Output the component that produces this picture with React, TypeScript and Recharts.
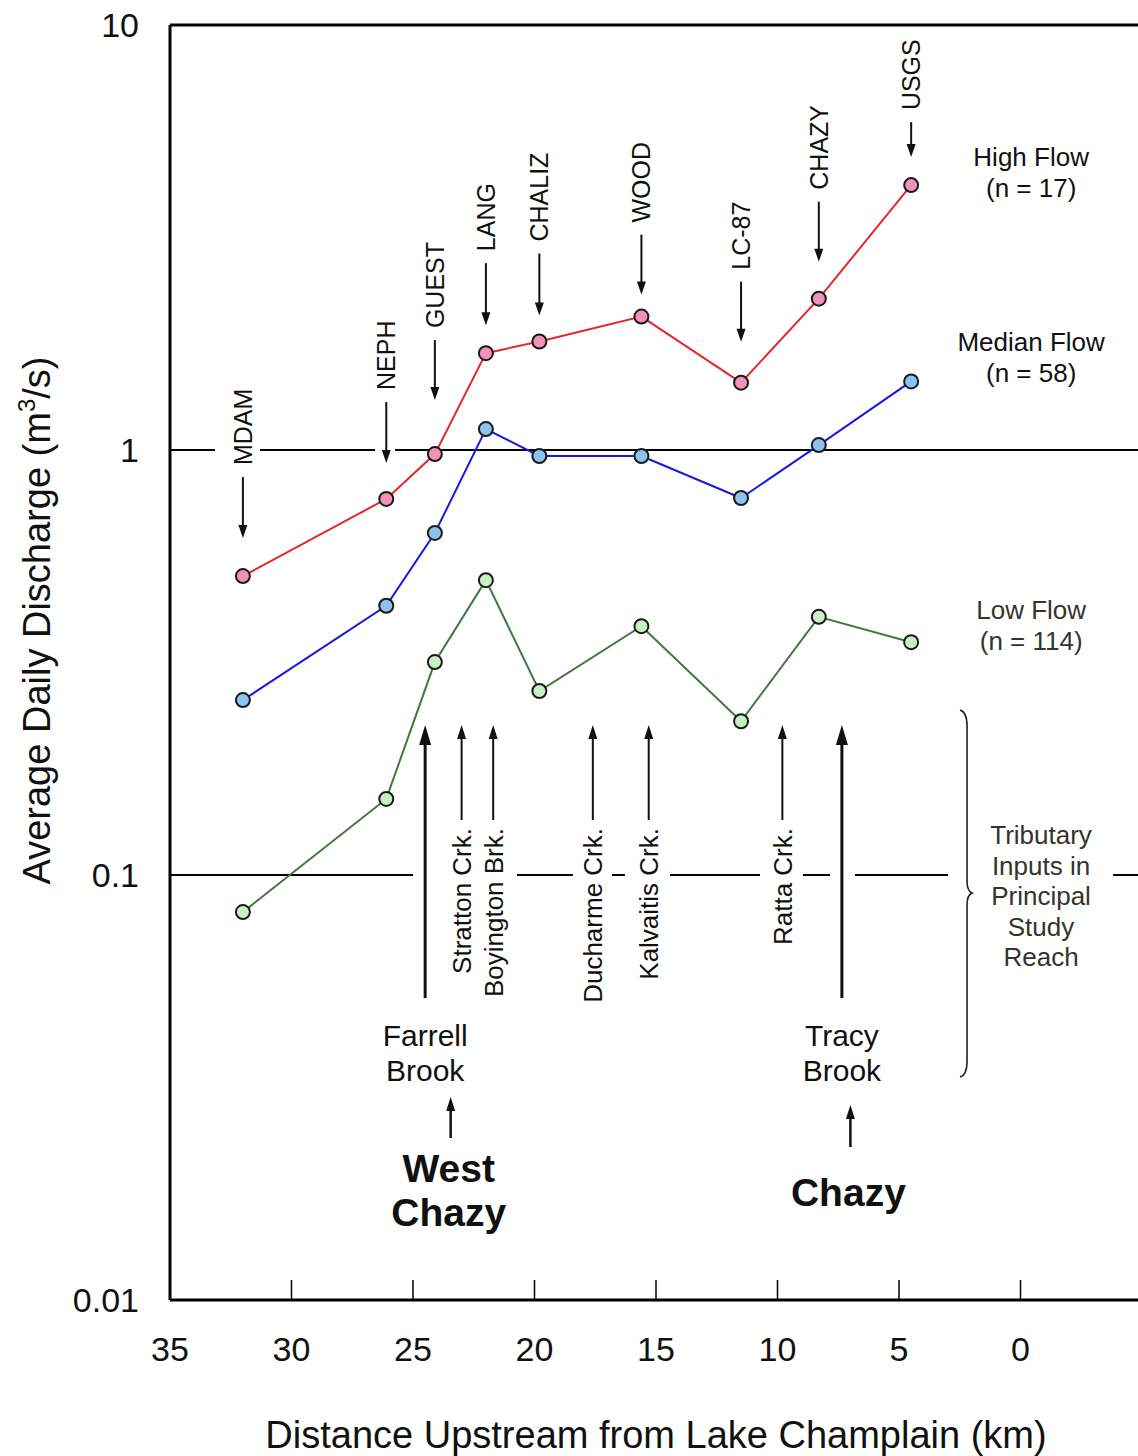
import React from 'react';
import { LineChart, Line, XAxis, YAxis, ReferenceLine, ReferenceDot } from 'recharts';

// Sampling stations along the Great Chazy River (km upstream of Lake Champlain)
const STATIONS = ['MDAM', 'NEPH', 'GUEST', 'LANG', 'CHALIZ', 'WOOD', 'LC-87', 'CHAZY', 'USGS'];
const DISTANCE_KM = [32.0, 26.1, 24.1, 22.0, 19.8, 15.6, 11.5, 8.3, 4.5];

// Average daily discharge (m3/s)
const HIGH_FLOW = [0.505, 0.767, 0.978, 1.69, 1.8, 2.06, 1.44, 2.27, 4.2];
const MEDIAN_FLOW = [0.258, 0.43, 0.638, 1.12, 0.968, 0.968, 0.771, 1.027, 1.45];
const LOW_FLOW = [0.0818, 0.151, 0.317, 0.494, 0.271, 0.385, 0.23, 0.405, 0.353];

const FLOW_NAMES = ['High Flow', 'Median Flow', 'Low Flow'];
const FLOW_COUNTS = [17, 58, 114];

// Tributaries entering the principal study reach
const MINOR_TRIBUTARIES = ['Stratton Crk.', 'Boyington Brk.', 'Ducharme Crk.', 'Kalvaitis Crk.', 'Ratta Crk.'];
const MINOR_TRIBUTARY_KM = [23.0, 21.7, 17.6, 15.3, 9.8];
const MAJOR_TRIBUTARIES = [['Farrell', 'Brook'], ['Tracy', 'Brook']];
const MAJOR_TRIBUTARY_KM = [24.5, 7.35];

// Towns
const TOWNS = [['West', 'Chazy'], ['Chazy']];
const TOWN_KM = [23.45, 7.0];

const X_TICKS = [35, 30, 25, 20, 15, 10, 5, 0];
const Y_TICKS = [0.01, 0.1, 1, 10];

// Reference line pieces (km ranges), broken where annotations sit on top
const ONE_LINE_SPANS = [[35, 33.15], [31.3, 26.56], [25.74, -5]];
const TENTH_LINE_SPANS = [[35, 25.0], [20.72, 18.42], [16.81, 16.28], [14.42, 10.72], [8.95, 7.84], [6.81, 2.98], [-3.81, -5]];

const BRACE_KM = 2.2;
const BRACE_TEXT = ['Tributary', 'Inputs in', 'Principal', 'Study', 'Reach'];

const FONT = '"Liberation Sans", Arial, Helvetica, sans-serif';
const INK = '#111';

const rows = DISTANCE_KM.map((km, i) => ({
  km,
  station: STATIONS[i],
  high: HIGH_FLOW[i],
  median: MEDIAN_FLOW[i],
  low: LOW_FLOW[i],
}));

// arrow placement above each high-flow marker: [gap to tip, arrow length]
const STATION_ARROWS = [[38, 61], [36, 61], [54, 60], [28, 62], [26, 62], [22, 60], [41, 60], [37, 60], [28, 35]];

const SERIES = [
  { key: 'high', values: HIGH_FLOW, line: '#E8262A', fill: '#F291BA', labelDy: [-28, 3], color: INK },
  { key: 'median', values: MEDIAN_FLOW, line: '#1818E0', fill: '#8CC4F0', labelDy: [-39, -8], color: INK },
  { key: 'low', values: LOW_FLOW, line: '#3D7B3D', fill: '#C8F0C2', labelDy: [-32, -1], color: '#34342c' },
];

function DownArrow({ x, tip, tail, head = 13, half = 4.5, width = 2 }) {
  return (
    <g>
      <line x1={x} y1={tail} x2={x} y2={tip - head + 1} stroke={INK} strokeWidth={width} />
      <path d={`M${x - half},${tip - head} L${x + half},${tip - head} L${x},${tip} Z`} fill={INK} />
    </g>
  );
}

function UpArrow({ x, tip, tail, head = 13, half = 4.5, width = 2 }) {
  return (
    <g>
      <line x1={x} y1={tail} x2={x} y2={tip + head - 1} stroke={INK} strokeWidth={width} />
      <path d={`M${x - half},${tip + head} L${x + half},${tip + head} L${x},${tip} Z`} fill={INK} />
    </g>
  );
}

function StationTag(props) {
  const { cx, cy, name, gap, len } = props;
  const tip = cy - gap;
  const tail = tip - len;
  return (
    <g>
      <DownArrow x={cx} tip={tip} tail={tail} />
      <text
        transform={`translate(${cx + 9},${tail - 12}) rotate(-90)`}
        fontSize={25}
        fontFamily={FONT}
        fill={INK}
      >
        {name}
      </text>
    </g>
  );
}

function MinorTributary(props) {
  const { cx, cy, name } = props;
  return (
    <g>
      <UpArrow x={cx} tip={cy - 150} tail={cy - 55} head={14} half={4.5} width={2} />
      <text
        transform={`translate(${cx + 9.5},${cy - 47}) rotate(-90)`}
        textAnchor="end"
        fontSize={26}
        fontFamily={FONT}
        fill={INK}
      >
        {name}
      </text>
    </g>
  );
}

function MajorTributary(props) {
  const { cx, cy, lines } = props;
  return (
    <g>
      <UpArrow x={cx} tip={cy - 150} tail={cy + 123} head={20} half={6} width={3} />
      {lines.map((t, i) => (
        <text key={t} x={cx} y={cy + 171 + i * 35} textAnchor="middle" fontSize={30} fontFamily={FONT} fill={INK}>
          {t}
        </text>
      ))}
    </g>
  );
}

function TownTag(props) {
  const { cx, cy, lines } = props;
  const first = lines.length > 1 ? -118 : -94;
  return (
    <g>
      <UpArrow x={cx} tip={cy - (lines.length > 1 ? 203 : 195)} tail={cy - (lines.length > 1 ? 162 : 153)} head={14} half={4.5} width={2.5} />
      {lines.map((t, i) => (
        <text
          key={t}
          x={cx - 2}
          y={cy + first + i * 44}
          textAnchor="middle"
          fontSize={39}
          fontWeight="bold"
          fontFamily={FONT}
          fill={INK}
        >
          {t}
        </text>
      ))}
    </g>
  );
}

function FlowTag(props) {
  const { cx, cy, title, count, dys, color } = props;
  return (
    <g fontFamily={FONT} fontSize={26} fill={color} textAnchor="middle">
      <text x={cx + 120} y={cy + dys[0] + 9}>{title}</text>
      <text x={cx + 120} y={cy + dys[1] + 9}>{`(n = ${count})`}</text>
    </g>
  );
}

function BraceTag(props) {
  const { cx, cy } = props;
  const top = cy - 165;
  const bot = cy + 202;
  const mid = cy + 18;
  const d = [
    `M${cx - 7},${top}`,
    `Q${cx},${top + 2} ${cx},${top + 16}`,
    `L${cx},${mid - 12}`,
    `Q${cx},${mid - 2} ${cx + 5},${mid}`,
    `Q${cx},${mid + 2} ${cx},${mid + 12}`,
    `L${cx},${bot - 16}`,
    `Q${cx},${bot - 2} ${cx - 7},${bot}`,
  ].join(' ');
  return (
    <g>
      <path d={d} fill="none" stroke="#222" strokeWidth={1.6} />
      {BRACE_TEXT.map((t, i) => (
        <text key={t} x={cx + 74} y={cy - 31 + i * 30.5} textAnchor="middle" fontSize={26} fontFamily={FONT} fill="#34342c">
          {t}
        </text>
      ))}
    </g>
  );
}

function XTitle(props) {
  const vb = props.viewBox || { x: 170, y: 1300, width: 972, height: 156 };
  return (
    <text x={vb.x + vb.width / 2} y={vb.y + 148} textAnchor="middle" fontSize={38} fontFamily={FONT} fill={INK}>
      Distance Upstream from Lake Champlain (km)
    </text>
  );
}

function YTitle(props) {
  const vb = props.viewBox || { x: 0, y: 25, width: 170, height: 1275 };
  const cy = vb.y + vb.height / 2 - 42;
  return (
    <text
      transform={`translate(50,${cy}) rotate(-90)`}
      textAnchor="middle"
      fontSize={38}
      fontFamily={FONT}
      fill={INK}
    >
      Average Daily Discharge (m
      <tspan dy={-15} fontSize={24}>3</tspan>
      <tspan dy={15}>/s)</tspan>
    </text>
  );
}

export default function App() {
  return (
    <div style={{ position: 'absolute', left: 0, top: 0, width: 1138, height: 1456, overflow: 'hidden', background: '#fff' }}>
      <LineChart width={1150} height={1456} data={rows} margin={{ top: 25, right: 8, bottom: 0, left: 0 }}>
        <XAxis
          type="number"
          dataKey="km"
          domain={[-5, 35]}
          reversed
          allowDataOverflow
          ticks={X_TICKS}
          interval={0}
          height={156}
          tickSize={-20}
          tickMargin={57}
          tickLine={{ stroke: '#000', strokeWidth: 1.5 }}
          axisLine={{ stroke: '#000', strokeWidth: 3 }}
          tick={{ fontSize: 34, fill: INK, fontFamily: FONT }}
          label={{ content: (p) => <XTitle {...p} /> }}
        />
        <YAxis
          type="number"
          scale="log"
          domain={[0.01, 10]}
          allowDataOverflow
          ticks={Y_TICKS}
          interval={0}
          width={170}
          tickLine={false}
          tickSize={0}
          tickMargin={31}
          axisLine={{ stroke: '#000', strokeWidth: 3 }}
          tick={{ fontSize: 34, fill: INK, fontFamily: FONT }}
          tickFormatter={(v) => String(v)}
          label={{ content: (p) => <YTitle {...p} /> }}
        />
        <ReferenceLine y={10} stroke="#000" strokeWidth={3} ifOverflow="visible" />
        {ONE_LINE_SPANS.map(([a, b], i) => (
          <ReferenceLine key={`one-${i}`} segment={[{ x: a, y: 1 }, { x: b, y: 1 }]} stroke="#000" strokeWidth={2} ifOverflow="visible" />
        ))}
        {TENTH_LINE_SPANS.map(([a, b], i) => (
          <ReferenceLine key={`tenth-${i}`} segment={[{ x: a, y: 0.1 }, { x: b, y: 0.1 }]} stroke="#000" strokeWidth={2} ifOverflow="visible" />
        ))}

        {SERIES.map((s) => (
          <Line
            key={s.key}
            type="linear"
            dataKey={s.key}
            stroke={s.line}
            strokeWidth={2}
            dot={{ r: 7, fill: s.fill, stroke: '#1a1a1a', strokeWidth: 2 }}
            activeDot={false}
            isAnimationActive={false}
          />
        ))}

        {STATIONS.map((name, i) => (
          <ReferenceDot
            key={name}
            x={DISTANCE_KM[i]}
            y={HIGH_FLOW[i]}
            ifOverflow="visible"
            shape={(p) => <StationTag {...p} name={name} gap={STATION_ARROWS[i][0]} len={STATION_ARROWS[i][1]} />}
          />
        ))}

        {SERIES.map((s, i) => (
          <ReferenceDot
            key={`flow-${s.key}`}
            x={DISTANCE_KM[DISTANCE_KM.length - 1]}
            y={s.values[s.values.length - 1]}
            ifOverflow="visible"
            shape={(p) => <FlowTag {...p} title={FLOW_NAMES[i]} count={FLOW_COUNTS[i]} dys={s.labelDy} color={s.color} />}
          />
        ))}

        {MINOR_TRIBUTARIES.map((name, i) => (
          <ReferenceDot
            key={name}
            x={MINOR_TRIBUTARY_KM[i]}
            y={0.1}
            ifOverflow="visible"
            shape={(p) => <MinorTributary {...p} name={name} />}
          />
        ))}
        {MAJOR_TRIBUTARIES.map((lines, i) => (
          <ReferenceDot
            key={lines.join(' ')}
            x={MAJOR_TRIBUTARY_KM[i]}
            y={0.1}
            ifOverflow="visible"
            shape={(p) => <MajorTributary {...p} lines={lines} />}
          />
        ))}
        {TOWNS.map((lines, i) => (
          <ReferenceDot
            key={lines.join(' ')}
            x={TOWN_KM[i]}
            y={0.01}
            ifOverflow="visible"
            shape={(p) => <TownTag {...p} lines={lines} />}
          />
        ))}
        <ReferenceDot x={BRACE_KM} y={0.1} ifOverflow="visible" shape={(p) => <BraceTag {...p} />} />
      </LineChart>
    </div>
  );
}
